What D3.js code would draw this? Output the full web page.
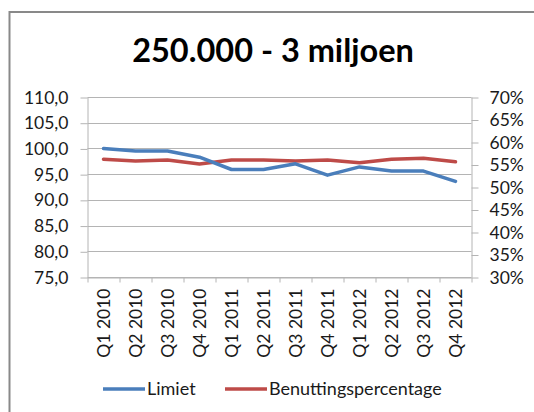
<!DOCTYPE html>
<html>
<head>
<meta charset="utf-8">
<script src="https://cdn.jsdelivr.net/npm/d3@7"></script>
<style>
  body { margin: 0; background: #fff; }
  svg text { font-family: Lato, "Open Sans", sans-serif; fill: #1a1a1a; }
</style>
</head>
<body>
<div id="chart"></div>
<script>
// kwartalen
var categories = ["Q1 2010", "Q2 2010", "Q3 2010", "Q4 2010",
                  "Q1 2011", "Q2 2011", "Q3 2011", "Q4 2011",
                  "Q1 2012", "Q2 2012", "Q3 2012", "Q4 2012"];
// Limiet (linker as)
var limiet = [100.1, 99.6, 99.6, 98.4, 96.0, 96.0, 97.1, 94.9, 96.5, 95.7, 95.7, 93.7];
// Benuttingspercentage (rechter as)
var benutting = [0.563, 0.559, 0.561, 0.552, 0.561, 0.561, 0.559, 0.561, 0.555, 0.563, 0.565, 0.557];

var leftTicks = [75, 80, 85, 90, 95, 100, 105, 110];
var rightTicks = [0.30, 0.35, 0.40, 0.45, 0.50, 0.55, 0.60, 0.65, 0.70];
var seriesNames = ["Limiet", "Benuttingspercentage"];
var colors = ["#4a7ebb", "#be4b48"];

function init(){
    var W = 534, H = 412;
    var margin = {left: 87.5, top: 97.5};
    var w = 384, h = 180;

    var svg = d3.select("#chart")
                .append("svg")
                .attr("width", W)
                .attr("height", H);

    // chart border (right and bottom fall outside the picture)
    svg.append("rect")
        .attr("x", 9.5)
        .attr("y", 12)
        .attr("width", 540)
        .attr("height", 420)
        .attr("fill", "none")
        .attr("stroke", "#898989")
        .attr("stroke-width", 2);

    svg.append("text")
        .attr("x", 273)
        .attr("y", 62)
        .attr("text-anchor", "middle")
        .style("font-size", "32.5px")
        .style("font-weight", "bold")
        .style("fill", "#000")
        .text("250.000 - 3 miljoen");

    var g = svg.append("g")
               .attr("transform", "translate(" + margin.left + "," + margin.top + ")");

    var xScale = d3.scaleBand()
                   .domain(categories)
                   .range([0, w])
                   .padding(0);
    var xEdge = d3.scaleLinear()
                  .domain([0, categories.length])
                  .range([0, w]);
    var yLeft = d3.scaleLinear()
                  .domain([75, 110])
                  .range([h, 0]);
    var yRight = d3.scaleLinear()
                   .domain([0.30, 0.70])
                   .range([h, 0]);

    // gridlines
    g.selectAll("line.grid")
        .data(leftTicks)
        .enter()
        .append("line")
        .attr("class", "grid")
        .attr("x1", 0)
        .attr("x2", w)
        .attr("y1", function(d){ return Math.round(yLeft(d)); })
        .attr("y2", function(d){ return Math.round(yLeft(d)); })
        .attr("stroke", "#b4b4b4")
        .attr("stroke-width", 1);

    var leftAxis = d3.axisLeft(yLeft)
                     .tickValues(leftTicks)
                     .tickSize(7)
                     .tickPadding(12)
                     .tickFormat(function(d){ return d.toFixed(1).replace(".", ","); });
    var rightAxis = d3.axisRight(yRight)
                      .tickValues(rightTicks)
                      .tickSize(7)
                      .tickPadding(11)
                      .tickFormat(function(d){ return Math.round(d * 100) + "%"; });
    var bottomAxis = d3.axisBottom(xEdge)
                       .tickValues(d3.range(categories.length + 1))
                       .tickSize(5)
                       .tickFormat("");

    var gl = g.append("g").call(leftAxis);
    var gr = g.append("g").attr("transform", "translate(" + w + ",0)").call(rightAxis);
    var gb = g.append("g").attr("transform", "translate(0," + h + ")").call(bottomAxis);

    [gl, gr, gb].forEach(function(a){
        a.selectAll(".domain").attr("stroke", "#b4b4b4");
        a.selectAll(".tick line").attr("stroke", "#b4b4b4");
        a.selectAll("text")
         .attr("font-family", null)
         .attr("font-size", null)
         .attr("fill", null)
         .style("font-size", "17.5px");
    });
    gl.select(".domain").attr("d", "M0.5,0V" + h);
    gr.select(".domain").attr("d", "M0.5,0V" + h);
    gb.select(".domain").attr("d", "M0,0.5H" + w);

    // category labels, rotated
    g.selectAll("text.cat")
        .data(categories)
        .enter()
        .append("text")
        .attr("class", "cat")
        .attr("transform", function(d){
            return "translate(" + (xScale(d) + xScale.bandwidth() / 2) + "," + (h + 11) + ") rotate(-90)";
        })
        .attr("text-anchor", "end")
        .attr("dy", "0.36em")
        .style("font-size", "17.5px")
        .text(function(d){ return d; });

    var lineLeft = d3.line()
                     .x(function(d, i){ return xScale(categories[i]) + xScale.bandwidth() / 2; })
                     .y(function(d){ return yLeft(d); });
    var lineRight = d3.line()
                      .x(function(d, i){ return xScale(categories[i]) + xScale.bandwidth() / 2; })
                      .y(function(d){ return yRight(d); });

    g.append("path")
        .datum(benutting)
        .attr("d", lineRight)
        .attr("fill", "none")
        .attr("stroke", colors[1])
        .attr("stroke-width", 3.5)
        .attr("stroke-linejoin", "round")
        .attr("stroke-linecap", "round");

    g.append("path")
        .datum(limiet)
        .attr("d", lineLeft)
        .attr("fill", "none")
        .attr("stroke", colors[0])
        .attr("stroke-width", 3.5)
        .attr("stroke-linejoin", "round")
        .attr("stroke-linecap", "round");

    // legend
    var legendX = [103, 225];
    var legend = svg.selectAll("g.legend")
                    .data(seriesNames)
                    .enter()
                    .append("g")
                    .attr("class", "legend")
                    .attr("transform", function(d, i){ return "translate(" + legendX[i] + ",389)"; });
    legend.append("line")
        .attr("x1", 0)
        .attr("x2", 42)
        .attr("stroke", function(d, i){ return colors[i]; })
        .attr("stroke-width", 3.5);
    legend.append("text")
        .attr("x", 44)
        .attr("dy", "0.36em")
        .style("font-size", "18px")
        .text(function(d){ return d; });
}

window.onload = init;
</script>
</body>
</html>
